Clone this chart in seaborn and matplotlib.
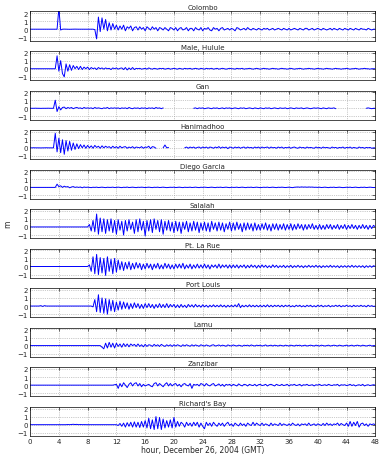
import numpy as np
import pandas as pd
import matplotlib
matplotlib.use("Agg")
import matplotlib.pyplot as plt
import seaborn as sns

# tide gauge residuals (m), sampled every 15 min, 0-48 h on 26 Dec 2004
hours = np.arange(0, 48.01, 0.25)

stations = ["Colombo", "Male, Hulule", "Gan", "Hanimadhoo", "Diego Garcia", "Salalah",
            "Pt. La Rue", "Port Louis", "Lamu", "Zanzibar", "Richard's Bay"]

colombo = [
    0.0, 0.0, 0.01, 0.0, -0.01, 0.0, 0.0, 0.01, 0.0, 0.0, -0.01, 0.0, 0.0, 0.01, 0.0, 0.0,
    2.6, -0.1, 0.0, 0.01, 0.0, 0.0, -0.01, 0.0, 0.0, 0.01, 0.0, 0.0, 0.0, -0.01, 0.0, 0.0,
    0.0, 0.0, 0.01, 0.0, -0.05, -1.2, 1.5, -0.3, 1.4, 0.0, 1.2, -0.2, 0.8, -0.1, 0.7, 0.0,
    0.5, -0.1, 0.4, 0.0, 0.5, -0.2, 0.3, 0.1, 0.4, -0.2, 0.2, 0.3, -0.1, 0.3, 0.0, 0.2,
    -0.2, 0.3, 0.1, -0.1, 0.3, 0.0, 0.2, -0.2, 0.2, 0.1, -0.1, 0.2, 0.0, -0.2, 0.2, 0.1,
    -0.1, 0.2, -0.2, 0.1, 0.2, -0.1, 0.0, 0.2, -0.2, 0.1, 0.1, -0.2, 0.2, 0.0, -0.1, 0.2,
    -0.2, 0.1, 0.0, 0.2, -0.1, -0.2, 0.2, 0.0, 0.1, -0.2, 0.1, 0.2, -0.1, 0.0, 0.1, -0.1,
    0.1, 0.0, -0.2, 0.2, 0.1, -0.1, 0.0, 0.1, -0.1, 0.2, 0.0, -0.1, 0.1, 0.0, -0.1, 0.1,
    0.0, -0.1, 0.1, 0.0, 0.1, -0.1, 0.0, 0.1, -0.1, 0.0, 0.1, 0.0, -0.1, 0.1, 0.0, -0.1,
    0.1, -0.1, 0.0, 0.1, 0.0, -0.1, 0.1, 0.0, -0.1, 0.1, 0.1, -0.1, 0.0, 0.1, -0.1, 0.0,
    0.1, 0.0, -0.1, 0.1, 0.0, -0.1, 0.0, 0.1, -0.1, 0.1, 0.0, -0.1, 0.1, 0.0, -0.1, 0.1,
    0.0, -0.1, 0.1, 0.0, -0.1, 0.1, 0.0, -0.1, 0.1, 0.0, 0.0, -0.1, 0.1, 0.0, -0.1, 0.0,
    0.0]

male = [
    0.0, 0.0, 0.01, 0.0, 0.0, -0.01, 0.0, 0.0, 0.01, 0.0, 0.0, 0.0, -0.01, 0.0, 0.0, 1.6,
    -0.3, 1.0, -0.6, -1.0, 0.6, -0.3, 0.5, -0.2, 0.4, 0.0, 0.3, -0.1, 0.3, -0.1, 0.2, 0.0,
    0.2, -0.1, 0.15, 0.0, 0.1, -0.1, 0.15, 0.0, 0.1, -0.05, 0.1, 0.0, 0.05, -0.1, 0.1, 0.0,
    0.1, -0.05, 0.05, 0.1, -0.1, 0.15, -0.15, 0.1, -0.1, 0.15, -0.1, 0.05, 0.0, 0.05, -0.05, 0.0,
    0.05, -0.05, 0.1, 0.0, -0.05, 0.05, 0.0, -0.05, 0.05, 0.0, 0.05, -0.05, 0.0, 0.05, -0.05, 0.0,
    0.05, 0.0, -0.05, 0.05, 0.0, -0.05, 0.05, 0.0, 0.0, 0.05, -0.05, 0.0, 0.05, 0.0, -0.05, 0.05,
    0.0, -0.05, 0.05, 0.0, 0.0, 0.05, -0.05, 0.0, 0.05, -0.05, 0.0, 0.05, 0.0, -0.05, 0.0, 0.05,
    0.0, 0.0, -0.05, 0.05, 0.0, 0.0, 0.05, -0.05, 0.0, 0.0, 0.05, 0.0, -0.05, 0.0, 0.05, 0.0,
    -0.05, 0.0, 0.05, 0.0, 0.0, -0.05, 0.0, 0.05, 0.0, 0.0, -0.05, 0.0, 0.05, 0.0, 0.0, -0.05,
    0.0, 0.05, 0.0, -0.05, 0.0, 0.0, 0.05, 0.0, -0.05, 0.0, 0.0, 0.05, 0.0, 0.0, -0.05, 0.0,
    0.05, 0.0, 0.0, -0.05, 0.0, 0.05, 0.0, 0.0, -0.05, 0.0, 0.05, 0.0, 0.0, -0.05, 0.0, 0.0,
    0.05, 0.0, -0.05, 0.0, 0.0, 0.05, 0.0, -0.05, 0.0, 0.0, 0.05, 0.0, 0.0, -0.05, 0.0, 0.0,
    0.0]

gan = [
    0.0, 0.0, 0.0, 0.01, 0.0, 0.0, -0.01, 0.0, 0.0, 0.0, 0.01, 0.0, 0.0, 0.0, 1.0, -0.4,
    0.2, -0.2, 0.1, 0.15, -0.05, 0.1, 0.0, 0.1, -0.05, 0.05, 0.1, 0.0, 0.05, -0.05, 0.1, 0.0,
    0.05, 0.0, 0.05, -0.05, 0.1, 0.0, 0.05, 0.0, -0.05, 0.05, 0.0, 0.1, -0.05, 0.05, 0.0, 0.05,
    0.0, 0.05, -0.05, 0.05, 0.0, 0.05, -0.05, 0.1, 0.0, -0.05, 0.05, 0.0, 0.05, -0.05, 0.05, 0.0,
    0.05, -0.05, 0.05, 0.0, 0.05, -0.05, 0.1, 0.0, 0.05, -0.05, 0.05, None, None, None, None, None,
    None, None, None, None, None, None, None, None, None, None, None, 0.0, 0.05, -0.05, 0.05, 0.0,
    0.05, -0.05, 0.0, 0.05, 0.0, -0.05, 0.05, 0.0, 0.05, -0.05, 0.0, 0.05, -0.05, 0.05, 0.0, 0.05,
    -0.05, 0.0, 0.05, 0.0, -0.05, 0.05, 0.0, 0.05, -0.05, 0.0, 0.05, 0.0, -0.05, 0.05, 0.0, -0.05,
    0.05, 0.0, -0.05, 0.05, 0.0, 0.05, -0.05, 0.0, 0.05, 0.0, -0.05, 0.05, 0.0, 0.0, 0.05, -0.05,
    0.0, 0.05, 0.0, -0.05, 0.05, 0.0, 0.0, 0.05, -0.05, 0.0, 0.05, 0.0, -0.05, 0.0, 0.05, 0.0,
    0.05, 0.0, -0.05, 0.05, 0.0, -0.05, 0.05, 0.0, 0.0, 0.05, -0.05, None, None, None, None, None,
    None, None, None, None, None, None, None, None, None, None, None, 0.0, 0.05, 0.0, -0.05, 0.0,
    0.0]

hanimadhoo = [
    0.0, 0.0, 0.01, 0.0, 0.0, 0.0, -0.01, 0.0, 0.0, 0.01, 0.0, 0.0, 0.0, 0.0, 1.8, -0.5,
    1.2, -0.6, 1.0, -0.8, 0.9, -0.4, 0.8, -0.3, 0.6, -0.2, 0.5, -0.1, 0.4, 0.0, 0.35, -0.05,
    0.3, 0.0, 0.25, -0.05, 0.3, 0.05, 0.2, -0.05, 0.25, 0.0, 0.2, 0.05, 0.15, -0.05, 0.2, 0.0,
    0.15, -0.05, 0.2, 0.0, 0.1, 0.15, -0.05, 0.1, 0.0, 0.15, -0.05, 0.1, 0.05, 0.0, 0.15, -0.05,
    0.1, 0.05, 0.2, -0.1, 0.15, 0.1, -0.05, None, None, None, 0.0, 0.35, 0.0, 0.05, None, None,
    None, None, None, None, None, None, 0.0, 0.1, -0.05, 0.1, 0.0, 0.1, -0.05, 0.05, 0.1, -0.05,
    0.1, 0.0, 0.1, -0.05, 0.1, 0.05, -0.05, 0.1, 0.0, 0.15, -0.05, 0.1, 0.0, 0.1, -0.1, 0.1,
    0.05, -0.05, 0.1, 0.0, 0.1, -0.05, 0.05, 0.1, -0.05, 0.1, 0.0, 0.05, -0.05, 0.1, 0.0, 0.1,
    -0.05, 0.1, 0.0, 0.05, 0.1, -0.05, 0.1, 0.0, 0.05, -0.05, 0.1, 0.0, 0.1, -0.05, 0.05, 0.0,
    0.1, -0.05, 0.05, 0.1, 0.0, -0.05, 0.1, 0.0, 0.05, -0.05, 0.1, 0.0, 0.05, 0.0, -0.05, 0.1,
    0.0, 0.05, -0.05, 0.1, 0.0, 0.05, 0.0, -0.05, 0.1, 0.0, 0.05, -0.05, 0.05, 0.0, 0.1, -0.05,
    0.05, 0.0, 0.1, -0.05, 0.05, 0.0, -0.05, 0.1, 0.0, 0.05, -0.05, 0.05, 0.0, 0.05, -0.05, 0.0,
    0.0]

diego_garcia = [
    0.0, 0.0, 0.0, 0.01, 0.0, 0.0, -0.01, 0.0, 0.0, 0.0, 0.01, 0.0, 0.0, 0.0, 0.0, 0.4,
    0.1, 0.2, 0.0, 0.15, 0.05, 0.1, -0.05, 0.05, 0.1, 0.0, 0.05, 0.0, 0.05, -0.05, 0.05, 0.0,
    0.03, 0.0, -0.03, 0.02, 0.0, 0.03, -0.02, 0.0, 0.03, 0.0, -0.03, 0.02, 0.0, 0.0, 0.03, -0.02,
    0.0, 0.03, 0.0, -0.03, 0.02, 0.0, 0.04, -0.02, 0.0, 0.03, 0.0, -0.03, 0.02, 0.0, 0.03, 0.0,
    -0.02, 0.0, 0.03, 0.0, -0.03, 0.02, 0.0, 0.03, -0.02, 0.0, 0.03, 0.0, -0.03, 0.0, 0.02, 0.0,
    0.03, -0.02, 0.0, 0.03, 0.0, -0.03, 0.02, 0.0, 0.0, 0.03, -0.02, 0.0, 0.03, 0.0, -0.03, 0.02,
    0.0, 0.03, 0.0, -0.02, 0.0, 0.03, 0.0, -0.03, 0.02, 0.0, 0.03, -0.02, 0.0, 0.03, 0.0, -0.03,
    0.02, 0.0, 0.0, 0.03, -0.02, 0.0, 0.03, 0.0, -0.03, 0.02, 0.0, 0.03, -0.02, 0.0, 0.03, 0.0,
    -0.03, 0.0, 0.02, 0.0, 0.03, -0.02, 0.0, 0.03, 0.0, -0.03, 0.02, 0.0, 0.03, 0.0, -0.02, 0.0,
    0.03, 0.0, -0.03, 0.02, 0.03, 0.05, 0.02, 0.06, 0.03, 0.05, 0.02, 0.05, 0.03, 0.04, 0.01, 0.02,
    0.0, 0.03, -0.02, 0.0, 0.03, 0.0, -0.03, 0.02, 0.0, 0.03, -0.02, 0.0, 0.03, 0.0, -0.03, 0.0,
    0.02, 0.0, 0.03, -0.02, 0.0, 0.03, 0.0, -0.03, 0.02, 0.0, 0.03, -0.02, 0.0, 0.03, 0.0, -0.02,
    0.0]

salalah = [
    0.0, 0.0, 0.01, 0.0, 0.0, -0.01, 0.0, 0.0, 0.01, 0.0, 0.0, 0.0, -0.01, 0.0, 0.0, 0.0,
    0.0, 0.01, 0.0, 0.0, -0.01, 0.0, 0.0, 0.01, 0.0, 0.0, 0.0, -0.01, 0.0, 0.0, 0.01, 0.0,
    0.0, 0.3, -0.5, 0.8, -0.6, 1.6, -0.9, 1.1, -0.6, 1.0, -0.8, 0.9, -0.5, 1.0, -0.7, 0.8,
    -0.9, 0.9, -0.4, 0.7, -1.0, 0.8, -0.5, 0.9, -0.3, 0.6, -0.8, 0.9, -0.6, 1.0, -0.4, 0.7,
    -1.1, 0.8, -0.5, 0.9, -0.7, 1.0, -0.3, 0.8, -0.6, 0.9, -0.9, 0.7, -0.4, 0.8, -0.5, 0.6,
    -0.7, 0.7, -0.5, 0.6, -0.8, 0.6, -0.3, 0.7, -0.6, 0.5, -0.5, 0.7, -0.4, 0.6, -0.7, 0.5,
    -0.4, 0.6, -0.5, 0.5, -0.6, 0.7, -0.3, 0.5, -0.5, 0.6, -0.4, 0.5, -0.6, 0.4, -0.3, 0.6,
    -0.5, 0.5, -0.4, 0.6, -0.3, 0.4, -0.6, 0.5, -0.4, 0.5, -0.3, 0.4, -0.5, 0.5, -0.4, 0.3,
    -0.4, 0.4, -0.3, 0.5, -0.4, 0.3, -0.5, 0.4, -0.3, 0.4, -0.4, 0.3, -0.3, 0.4, -0.4, 0.3,
    -0.3, 0.4, -0.4, 0.3, -0.3, 0.4, -0.2, 0.3, -0.4, 0.3, -0.3, 0.3, -0.2, 0.4, -0.3, 0.2,
    -0.3, 0.3, -0.3, 0.2, -0.3, 0.3, -0.2, 0.3, -0.3, 0.2, -0.2, 0.3, -0.3, 0.2, -0.2, 0.3,
    -0.3, 0.2, -0.2, 0.3, -0.2, 0.2, -0.3, 0.2, -0.2, 0.3, -0.2, 0.2, -0.3, 0.2, -0.2, 0.2,
    0.0]

pt_la_rue = [
    0.0, 0.0, 0.01, 0.0, 0.0, -0.01, 0.0, 0.0, 0.01, 0.0, 0.0, 0.0, -0.01, 0.0, 0.0, 0.0,
    0.0, 0.01, 0.0, 0.0, -0.01, 0.0, 0.0, 0.01, 0.0, 0.0, 0.0, -0.01, 0.0, 0.0, 0.01, 0.0,
    0.0, 0.2, -0.6, 1.2, -0.9, 1.5, -1.0, 1.1, -0.8, 1.0, -1.1, 1.2, -0.6, 0.9, -0.9, 1.0,
    -0.7, 0.8, -0.4, 0.6, -0.5, 0.5, -0.3, 0.6, -0.4, 0.4, -0.3, 0.5, -0.2, 0.4, -0.4, 0.3,
    -0.3, 0.4, -0.2, 0.3, -0.4, 0.3, -0.2, 0.4, -0.3, 0.2, -0.3, 0.4, -0.2, 0.3, -0.3, 0.2,
    -0.3, 0.3, -0.2, 0.3, -0.2, 0.4, -0.3, 0.2, -0.2, 0.3, -0.3, 0.2, -0.2, 0.3, -0.2, 0.2,
    -0.2, 0.3, -0.2, 0.2, -0.3, 0.2, -0.1, 0.2, -0.2, 0.3, -0.2, 0.2, -0.1, 0.2, -0.2, 0.2,
    -0.2, 0.2, -0.15, 0.2, -0.2, 0.15, -0.1, 0.2, -0.2, 0.15, -0.15, 0.2, -0.1, 0.15, -0.2, 0.15,
    -0.15, 0.2, -0.1, 0.15, -0.15, 0.1, -0.15, 0.2, -0.1, 0.15, -0.15, 0.1, -0.1, 0.15, -0.15, 0.1,
    -0.1, 0.15, -0.15, 0.1, -0.1, 0.15, -0.1, 0.1, -0.15, 0.1, -0.1, 0.15, -0.1, 0.1, -0.1, 0.15,
    -0.1, 0.1, -0.15, 0.1, -0.1, 0.1, -0.1, 0.15, -0.1, 0.1, -0.1, 0.1, -0.15, 0.1, -0.1, 0.1,
    -0.1, 0.1, -0.1, 0.15, -0.1, 0.1, -0.1, 0.1, -0.1, 0.1, -0.15, 0.1, -0.1, 0.1, -0.1, 0.1,
    0.0]

port_louis = [
    0.0, 0.0, 0.01, 0.0, 0.0, 0.0, 0.05, -0.05, 0.05, 0.0, 0.0, -0.01, 0.0, 0.0, 0.01, 0.0,
    0.0, 0.01, 0.0, 0.0, -0.01, 0.0, 0.0, 0.01, 0.0, 0.0, 0.0, -0.01, 0.0, 0.0, 0.01, 0.0,
    0.0, 0.0, 0.0, -0.1, 0.8, -0.7, 1.4, -0.8, 1.0, -0.9, 0.9, -1.0, 0.8, -0.6, 0.7, -0.7,
    0.5, -0.5, 0.6, -0.4, 0.5, -0.3, 0.4, -0.4, 0.3, -0.3, 0.4, -0.2, 0.3, -0.3, 0.2, -0.3,
    0.3, -0.2, 0.3, -0.2, 0.2, -0.3, 0.2, -0.2, 0.3, -0.2, 0.2, -0.2, 0.3, -0.2, 0.2, -0.1,
    0.2, -0.2, 0.15, -0.2, 0.2, -0.15, 0.1, -0.2, 0.2, -0.1, 0.15, -0.15, 0.2, -0.1, 0.1, -0.15,
    0.15, -0.1, 0.1, -0.15, 0.1, -0.1, 0.15, -0.1, 0.1, -0.1, 0.15, -0.1, 0.1, -0.15, 0.1, -0.1,
    0.1, -0.1, 0.15, -0.1, 0.3, -0.2, 0.1, -0.1, 0.1, -0.1, 0.15, -0.1, 0.1, -0.1, 0.1, -0.1,
    0.1, -0.1, 0.1, -0.1, 0.15, -0.1, 0.1, -0.1, 0.1, -0.05, 0.1, -0.1, 0.1, -0.1, 0.1, -0.05,
    0.1, -0.1, 0.05, -0.1, 0.1, -0.05, 0.1, -0.1, 0.05, -0.1, 0.1, -0.05, 0.1, -0.1, 0.05, -0.1,
    0.1, -0.05, 0.1, -0.1, 0.05, -0.05, 0.1, -0.1, 0.05, -0.05, 0.1, -0.05, 0.1, -0.1, 0.05, -0.05,
    0.1, -0.05, 0.05, -0.1, 0.1, -0.05, 0.05, -0.05, 0.1, -0.05, 0.05, -0.1, 0.1, -0.05, 0.05, -0.05,
    0.0]

lamu = [
    0.0, 0.0, 0.01, 0.0, 0.0, -0.01, 0.0, 0.0, 0.01, 0.0, 0.0, 0.0, -0.01, 0.0, 0.0, 0.0,
    0.0, 0.01, 0.0, 0.0, -0.01, 0.0, 0.0, 0.01, 0.0, 0.0, 0.0, -0.01, 0.0, 0.0, 0.01, 0.0,
    0.0, 0.0, 0.01, 0.0, 0.0, -0.01, 0.0, 0.0, -0.2, -0.4, 0.3, -0.3, 0.4, -0.2, 0.3, -0.3,
    0.3, -0.1, 0.2, -0.2, 0.25, -0.1, 0.2, -0.15, 0.2, 0.0, 0.15, -0.1, 0.2, -0.1, 0.1, -0.15,
    0.15, -0.1, 0.1, 0.05, -0.1, 0.15, -0.05, 0.1, -0.1, 0.15, 0.0, -0.1, 0.1, -0.05, 0.1, -0.1,
    0.1, -0.05, 0.1, 0.0, -0.1, 0.1, -0.05, 0.1, 0.0, -0.08, 0.1, -0.05, 0.08, 0.0, -0.08, 0.1,
    0.0, -0.05, 0.08, 0.0, -0.08, 0.05, 0.1, -0.05, 0.0, 0.08, -0.05, 0.05, 0.0, -0.08, 0.08, 0.0,
    -0.05, 0.08, 0.0, -0.05, 0.05, 0.0, -0.08, 0.05, 0.0, 0.05, -0.05, 0.08, 0.0, -0.05, 0.05, 0.0,
    0.05, -0.05, 0.0, 0.08, -0.05, 0.0, 0.05, -0.05, 0.05, 0.0, -0.05, 0.05, 0.0, -0.05, 0.05, 0.0,
    -0.05, 0.05, 0.0, -0.05, 0.05, 0.0, 0.05, -0.05, 0.0, 0.05, -0.05, 0.0, 0.05, 0.0, -0.05, 0.05,
    0.0, -0.05, 0.05, 0.0, -0.05, 0.0, 0.05, -0.05, 0.0, 0.05, 0.0, -0.05, 0.05, 0.0, -0.05, 0.0,
    0.05, -0.05, 0.0, 0.05, -0.05, 0.0, 0.05, 0.0, -0.05, 0.05, 0.0, -0.05, 0.0, 0.05, -0.05, 0.0,
    0.0]

zanzibar = [
    0.0, 0.0, 0.01, 0.0, 0.0, -0.01, 0.0, 0.0, 0.01, 0.0, 0.0, 0.0, -0.01, 0.0, 0.0, 0.0,
    0.0, 0.01, 0.0, 0.0, -0.01, 0.0, 0.0, 0.01, 0.0, 0.0, 0.0, -0.01, 0.0, 0.0, 0.01, 0.0,
    0.0, 0.0, 0.01, 0.0, 0.0, -0.01, 0.0, 0.0, 0.01, 0.0, 0.0, 0.0, -0.01, 0.0, 0.0, 0.05,
    0.1, -0.4, 0.2, -0.2, 0.3, 0.0, -0.3, 0.1, 0.3, -0.1, 0.2, 0.3, -0.1, 0.2, -0.2, 0.1,
    -0.1, 0.0, 0.1, -0.1, -0.2, 0.2, 0.3, -0.1, 0.2, 0.0, -0.2, 0.1, 0.3, -0.1, 0.2, -0.1,
    0.1, 0.2, -0.1, 0.1, -0.2, 0.1, 0.2, 0.0, -0.1, 0.2, -0.4, 0.1, 0.0, 0.1, -0.1, 0.2,
    0.1, -0.1, 0.2, 0.0, -0.1, 0.1, 0.2, -0.1, 0.0, 0.15, -0.1, 0.1, -0.15, 0.1, 0.0, 0.1,
    -0.1, 0.1, 0.0, -0.1, 0.15, 0.0, -0.1, 0.1, 0.05, -0.1, 0.1, 0.0, -0.05, 0.1, -0.1, 0.05,
    0.1, -0.05, 0.0, 0.1, -0.1, 0.05, 0.1, 0.0, -0.1, 0.1, 0.0, -0.05, 0.1, -0.05, 0.0, 0.1,
    -0.1, 0.05, 0.0, 0.1, -0.05, 0.0, 0.1, -0.1, 0.05, 0.0, 0.1, -0.05, 0.0, 0.05, -0.1, 0.05,
    0.0, 0.1, -0.05, 0.0, 0.05, -0.05, 0.1, 0.0, -0.05, 0.05, 0.0, 0.1, -0.1, 0.05, 0.0, 0.05,
    -0.05, 0.0, 0.1, -0.05, 0.05, -0.1, 0.0, 0.05, -0.05, 0.1, -0.1, 0.0, 0.05, -0.05, 0.0, 0.05,
    0.0]

richards_bay = [
    0.0, 0.0, 0.01, 0.0, 0.0, -0.01, 0.0, 0.0, 0.01, 0.0, 0.0, 0.0, -0.01, 0.0, 0.0, 0.0,
    0.0, 0.01, 0.0, 0.0, 0.0, 0.02, 0.0, 0.03, 0.05, 0.02, 0.04, 0.0, 0.02, 0.0, 0.01, 0.0,
    0.0, 0.0, 0.01, 0.0, 0.0, -0.01, 0.0, 0.0, 0.01, 0.0, 0.0, 0.0, -0.01, 0.0, 0.0, 0.0,
    0.0, -0.1, 0.15, -0.2, 0.2, -0.3, 0.25, -0.2, 0.3, -0.3, 0.35, -0.3, 0.3, -0.35, 0.4, -0.3,
    0.5, -0.4, 0.8, -0.5, 0.6, -0.6, 1.0, -0.5, 0.9, -0.6, 0.7, -0.4, 0.5, -0.3, 0.6, -0.4,
    0.9, -0.3, 0.4, -0.2, 0.3, 0.1, -0.3, 0.3, -0.1, 0.2, -0.2, 0.3, -0.1, 0.3, -0.3, 0.2,
    -0.2, -0.5, 0.3, -0.1, 0.2, -0.2, 0.3, 0.0, -0.2, 0.2, -0.1, 0.2, -0.2, 0.1, 0.3, -0.1,
    0.1, -0.2, 0.2, 0.0, -0.15, 0.2, -0.1, 0.1, -0.2, 0.2, 0.0, -0.1, 0.3, -0.1, 0.2, 0.0,
    -0.1, 0.2, -0.1, 0.1, 0.0, -0.15, 0.2, -0.1, 0.1, 0.0, -0.1, 0.2, -0.1, 0.1, 0.0, -0.1,
    0.1, -0.1, 0.2, 0.0, -0.1, 0.1, -0.15, 0.1, 0.0, 0.1, -0.1, 0.2, -0.1, 0.0, 0.1, -0.1,
    0.1, 0.0, -0.1, 0.15, -0.1, 0.2, -0.05, 0.1, -0.1, 0.1, 0.0, 0.2, -0.1, 0.15, 0.0, -0.1,
    0.2, -0.2, 0.4, -0.2, 0.3, -0.1, 0.4, -0.3, 0.1, 0.2, -0.1, 0.1, -0.2, 0.1, 0.0, 0.1,
    0.0]

series = [colombo, male, gan, hanimadhoo, diego_garcia, salalah,
          pt_la_rue, port_louis, lamu, zanzibar, richards_bay]

x_ticks = list(range(0, 49, 4))
y_ticks = [-1, 0, 1, 2]

sns.set_style("white")
plt.rcParams['font.family'] = ['DejaVu Sans']

fig, axes = plt.subplots(len(stations), 1, figsize=(3.81, 4.6), dpi=100, sharex=True)
fig.subplots_adjust(left=0.079, right=0.985, top=0.973, bottom=0.05, hspace=0.36)

for ax, name, vals in zip(axes, stations, series):
    level = np.array(vals, dtype=float)
    df = pd.DataFrame({"hour": hours, "level": level})
    # break the line where the gauge has no data
    df["seg"] = df["level"].isna().cumsum()
    df = df.dropna()
    sns.lineplot(data=df, x="hour", y="level", units="seg", estimator=None,
                 color="#0000ff", linewidth=0.7, ax=ax, legend=False)
    ax.set_xlim(0, 48)
    ax.set_ylim(-1.4, 2.2)
    ax.set_xticks(x_ticks)
    ax.set_yticks(y_ticks)
    ax.grid(True, color="#999999", linestyle=":", linewidth=0.5)
    ax.tick_params(direction="in", length=2, width=0.5, top=True, right=True,
                   labelsize=5, pad=1.5)
    for sp in ax.spines.values():
        sp.set_linewidth(0.5)
        sp.set_color("black")
    ax.set_title(name, fontsize=5, pad=1.5)
    ax.set_xlabel("")
    ax.set_ylabel("")

axes[5].set_ylabel("m", fontsize=5.5, labelpad=4)
axes[-1].set_xticklabels([str(t) for t in x_ticks])
axes[-1].set_xlabel("hour, December 26, 2004 (GMT)", fontsize=5.5, labelpad=1)

fig.savefig("out.png", dpi=100)
